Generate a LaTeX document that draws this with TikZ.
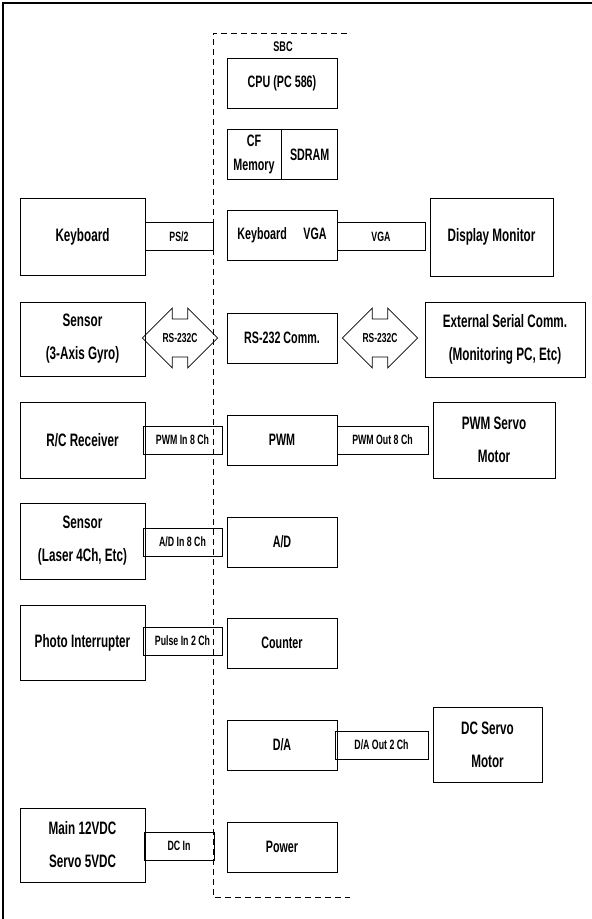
\documentclass[tikz,border=0pt]{standalone}
\usepackage{fontspec}
\setmainfont{Liberation Sans}[FakeStretch=0.65]
\usetikzlibrary{positioning,shapes.arrows}

\tikzset{
  devbox/.style={draw, line width=0.7pt, inner sep=0pt, align=center,
    font=\bfseries\fontsize{18}{33}\selectfont},
  modbox/.style={draw, line width=0.7pt, inner sep=0pt, align=center,
    minimum width=110pt, minimum height=50pt,
    font=\bfseries\fontsize{16.5}{24}\selectfont},
  portbox/.style={draw, line width=0.7pt, inner sep=0pt, align=center,
    minimum height=28pt, font=\bfseries\fontsize{13.5}{16}\selectfont},
  rsarrow/.style={draw, line width=0.7pt, double arrow, inner xsep=1pt, inner ysep=14pt,
    double arrow head extend=11pt, minimum height=72pt,
    font=\bfseries\fontsize{13}{14}\selectfont}
}

\begin{document}
\begin{tikzpicture}[x=1pt, y=-1pt]
  \useasboundingbox (0,0) rectangle (592,919);
  % frame
  \draw[line width=1.2pt] (3,919) -- (3,3) -- (592,3);
  % board
  \draw[line width=1pt, dash pattern=on 6pt off 4pt] (347,33) -- (213,33) -- (213,897) -- (350,897);
  \node (sbc) at (283,47) {\bfseries\fontsize{14}{16}\selectfont SBC};

  % modules on the board
  \node[modbox] (cpu) at (282,83) {CPU (PC 586)};
  \node[modbox, minimum width=54pt] (cf) at (254,154.5) {CF\\Memory};
  \node[modbox, minimum width=56pt, right=0pt of cf] (sdram) {SDRAM};
  \node[modbox] (kbvga) at (282,235) {Keyboard\quad VGA};
  \node[modbox] (rscomm) at (282,338) {RS-232 Comm.};
  \node[modbox] (pwm) at (282,440) {PWM};
  \node[modbox] (ad) at (282,542) {A/D};
  \node[modbox] (counter) at (282,643) {Counter};
  \node[modbox] (da) at (282,745) {D/A};
  \node[modbox] (power) at (282,847) {Power};

  % left devices
  \node[devbox, minimum width=125pt, minimum height=77pt] (kbd) at (82.5,236.5) {Keyboard};
  \node[devbox, minimum width=125pt, minimum height=74pt] (gyro) at (82.5,339) {Sensor\\(3-Axis Gyro)};
  \node[devbox, minimum width=125pt, minimum height=76pt] (rc) at (82.5,440) {R/C Receiver};
  \node[devbox, minimum width=125pt, minimum height=76pt] (laser) at (82.5,541) {Sensor\\(Laser 4Ch, Etc)};
  \node[devbox, minimum width=125pt, minimum height=75pt] (photo) at (82.5,642.5) {Photo Interrupter};
  \node[devbox, minimum width=125pt, minimum height=74pt] (mainpw) at (82.5,845) {Main 12VDC\\Servo 5VDC};

  % right devices
  \node[devbox, minimum width=123pt, minimum height=78pt] (disp) at (491.5,237) {Display Monitor};
  \node[devbox, minimum width=160pt, minimum height=75pt] (ext) at (505,339.5) {External Serial Comm.\\(Monitoring PC, Etc)};
  \node[devbox, minimum width=122pt, minimum height=76pt] (pwmsv) at (494,440) {PWM Servo\\Motor};
  \node[devbox, minimum width=109pt, minimum height=75pt] (dcsv) at (487.5,744.5) {DC Servo\\Motor};

  % ports, left
  \node[portbox, minimum width=68pt] (ps2) at (179,236.5) {PS/2};
  \node[rsarrow] (rsl) at (180,338) {RS-232C};
  \node[portbox, minimum width=79pt] (pwmin) at (182.5,440) {PWM In 8 Ch};
  \node[portbox, minimum width=79pt] (adin) at (182.5,542) {A/D In 8 Ch};
  \node[portbox, minimum width=79pt] (pulsein) at (182.5,641) {Pulse In 2 Ch};
  \node[portbox, minimum width=70pt] (dcin) at (179,846) {DC In};

  % ports, right
  \node[portbox, minimum width=88pt] (vga) at (381,236.5) {VGA};
  \node[rsarrow] (rsr) at (380,338) {RS-232C};
  \node[portbox, minimum width=91pt] (pwmout) at (382.5,440) {PWM Out 8 Ch};
  \node[portbox, minimum width=93pt] (daout) at (381.5,745) {D/A Out 2 Ch};
\end{tikzpicture}
\end{document}
